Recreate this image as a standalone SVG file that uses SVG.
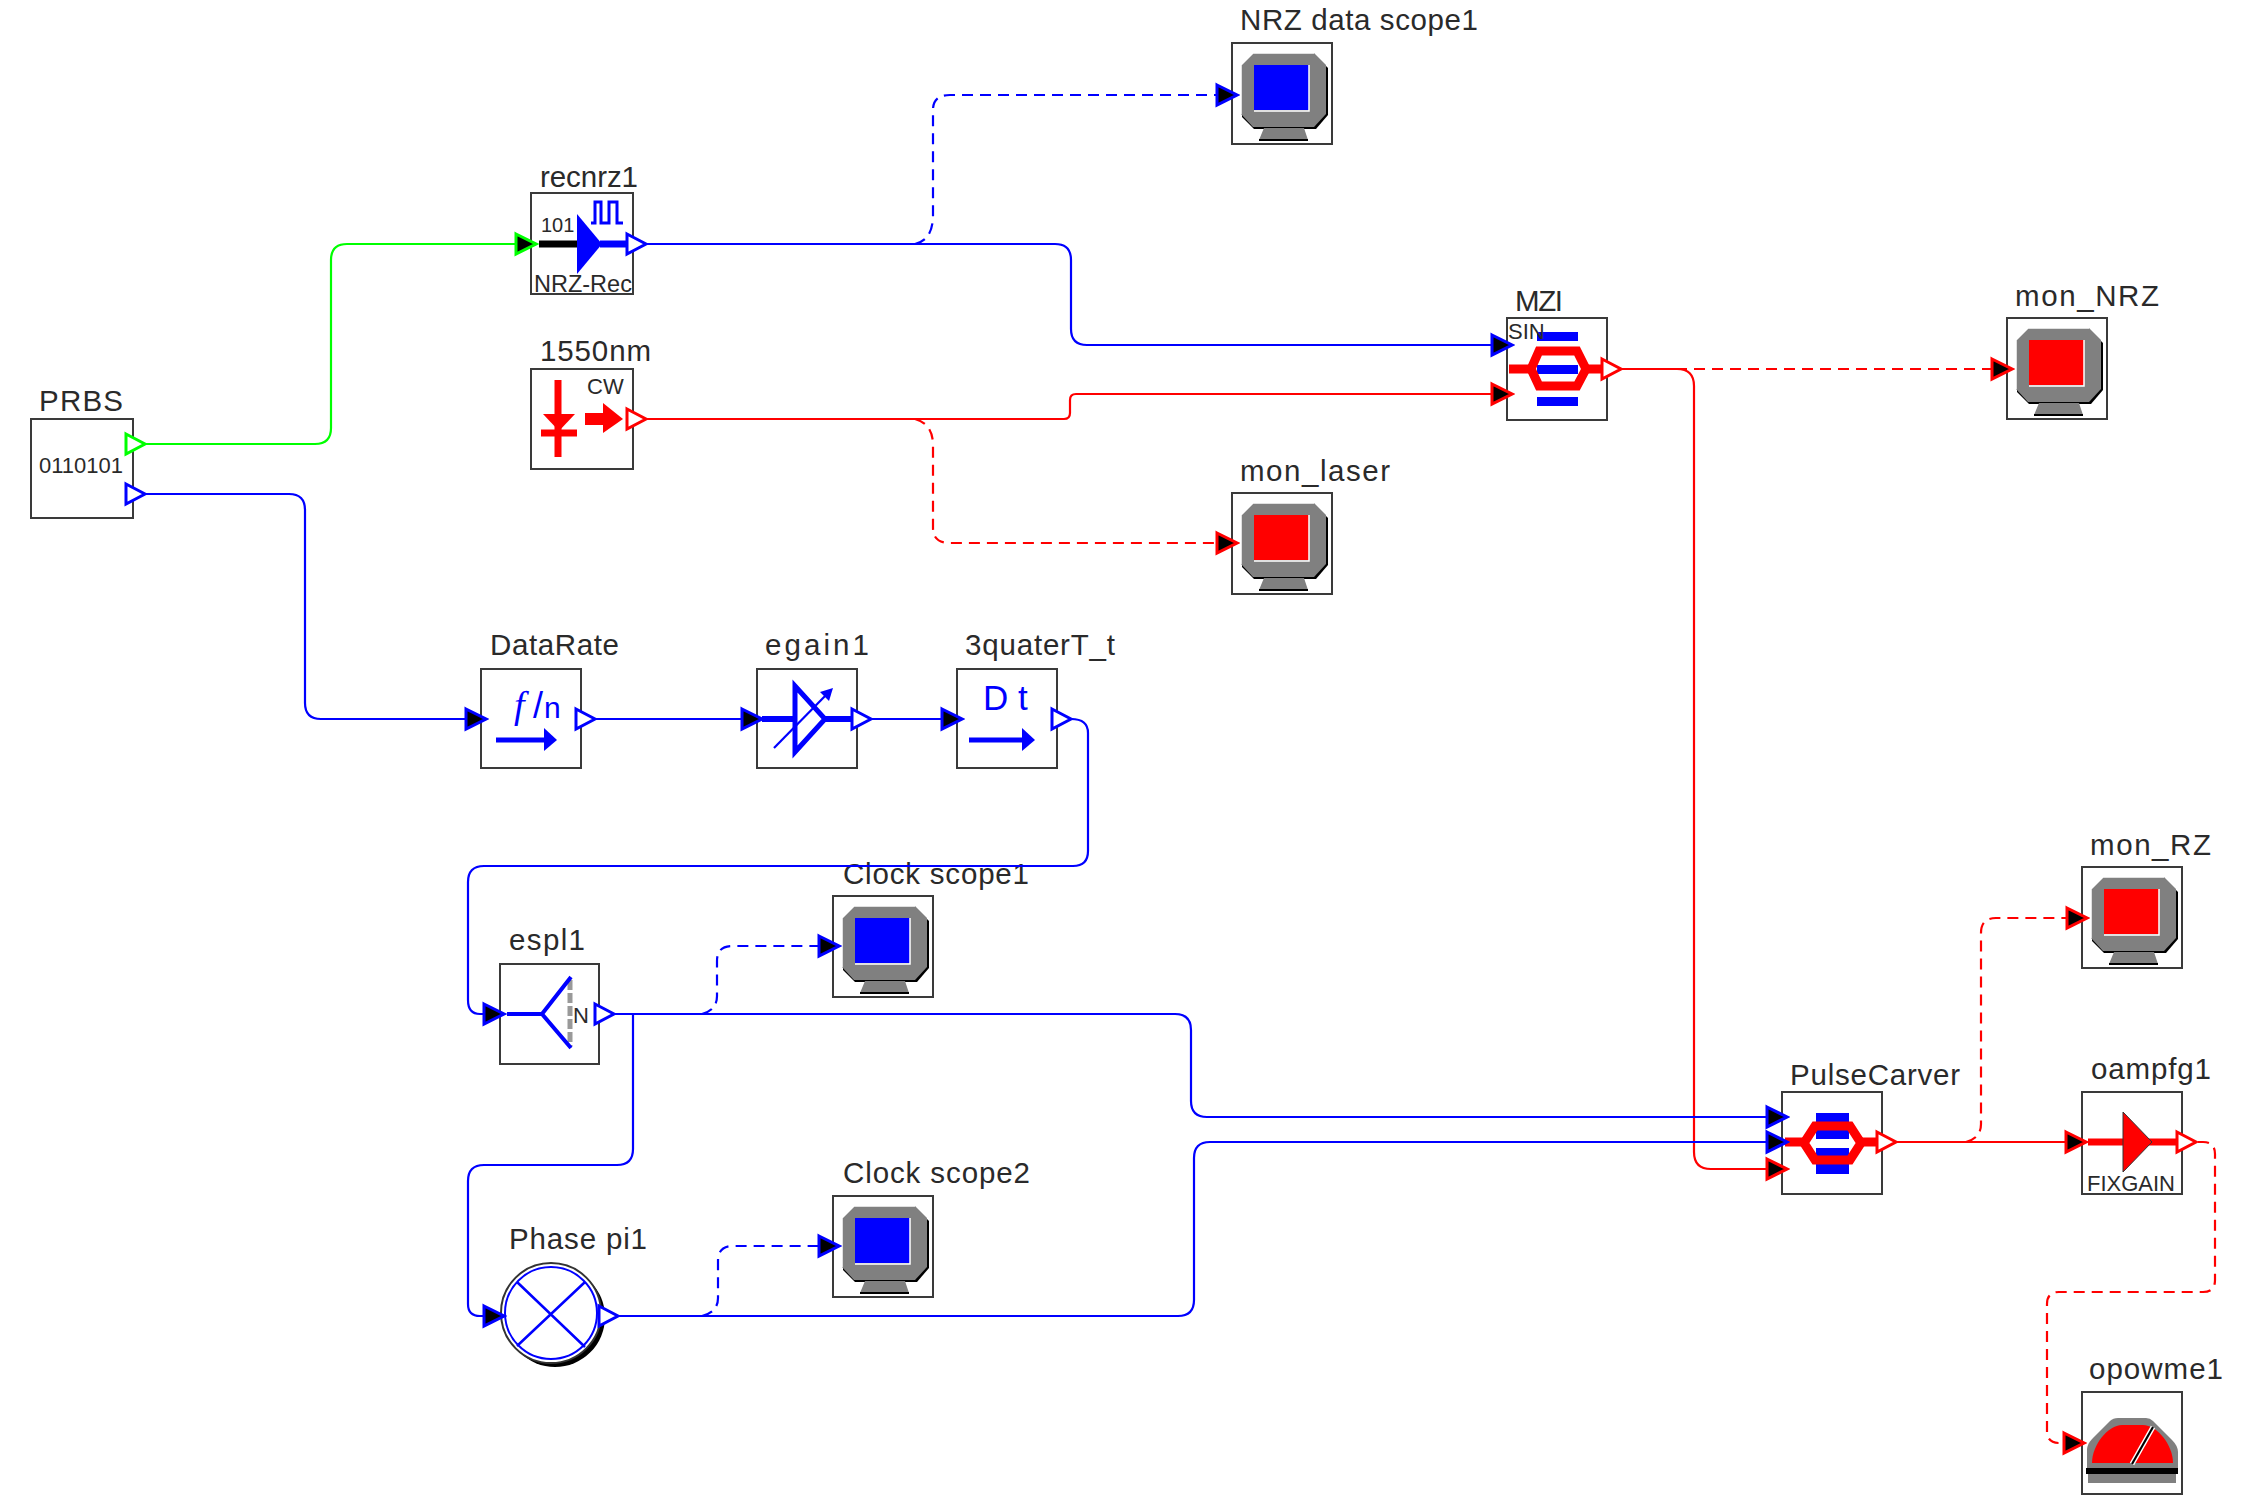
<svg xmlns="http://www.w3.org/2000/svg" width="2259" height="1498" viewBox="0 0 2259 1498">
<style>
text{font-family:"Liberation Sans",Arial,sans-serif;fill:#2a2a2a}
.lbl{font-size:29.5px}
.in{font-size:22px}
.box{fill:#fff;stroke:#3a3a3a;stroke-width:2}
.c{fill:none;stroke-width:2.2}
.b{stroke:#00f}.r{stroke:#f00}.g{stroke:#0f0}
.d{stroke-dasharray:11 7}
.bi{stroke:#00f;fill:none;stroke-width:7}
.ri{stroke:#f00;fill:none;stroke-width:7}
.out{fill:#fff;stroke-width:3}
.bf{fill:#00f}.rf{fill:#f00}
.bt{fill:#00f}
</style>
<defs>
<marker id="inB" markerUnits="userSpaceOnUse" markerWidth="26" markerHeight="28" refX="24" refY="14" orient="auto"><polygon points="3,4 23,14 3,24" fill="#000" stroke="#00f" stroke-width="3"/></marker>
<marker id="inR" markerUnits="userSpaceOnUse" markerWidth="26" markerHeight="28" refX="24" refY="14" orient="auto"><polygon points="3,4 23,14 3,24" fill="#000" stroke="#f00" stroke-width="3"/></marker>
<marker id="inG" markerUnits="userSpaceOnUse" markerWidth="26" markerHeight="28" refX="24" refY="14" orient="auto"><polygon points="3,4 23,14 3,24" fill="#000" stroke="#0f0" stroke-width="3"/></marker>
<polygon id="pin" points="0,-10 19,0 0,10" class="out"/>
<g id="scope">
<rect class="box" x="0" y="0" width="100" height="101"/>
<polygon points="21,12 83,12 95,24 95,71 83,85 21,85 9,73 9,24" fill="#000" transform="translate(1,1)"/>
<polygon points="21,10 82,10 94,22 94,71 82,84 21,84 9,71 9,22" fill="#808080"/>
<path d="M9 71V22L21 10H82" fill="none" stroke="#fff" stroke-width="1.5"/>
<rect x="22" y="22" width="55" height="45"/>
<path d="M77 22V68H22" fill="none" stroke="#fff" stroke-width="1.5"/>
<polygon points="32,85 72,85 76,97 27,97" fill="#808080"/>
<rect x="27" y="96" width="49" height="2" fill="#000"/>
</g>
</defs>
<rect width="2259" height="1498" fill="#fff"/>

<g id="nodes">
<g id="PRBS"><text class="lbl" x="39" y="411" textLength="84">PRBS</text><rect class="box" x="31" y="419" width="102" height="99"/><text class="in" x="39" y="473">0110101</text>
<use href="#pin" x="126" y="444" stroke="#0f0"/><use href="#pin" x="126" y="494" stroke="#00f"/></g>

<g id="recnrz1"><text class="lbl" x="540" y="187" textLength="98">recnrz1</text><rect class="box" x="531" y="193" width="102" height="101"/>
<text class="in" x="541" y="232" style="font-size:20px">101</text>
<path d="M591 223H595V202H601V223H609V202H617V223H623" fill="none" stroke="#00f" stroke-width="3"/>
<path d="M539 244H578" stroke="#000" stroke-width="7"/><path d="M600 244H627" class="bi"/>
<polygon points="577,214 602,244 577,274" class="bf"/>
<text x="534" y="292" style="font-size:23.5px">NRZ-Rec</text>
<use href="#pin" x="627" y="244" stroke="#00f"/></g>

<g id="laser1550"><text class="lbl" x="540" y="361" textLength="111">1550nm</text><rect class="box" x="531" y="369" width="102" height="100"/>
<text class="in" x="587" y="394">CW</text>
<path d="M558 380V457" class="ri"/><polygon points="543,414 575,414 559,431" class="rf"/><path d="M541 433H577" class="ri"/>
<rect x="585" y="413" width="18" height="12" class="rf"/><polygon points="603,403 623,419 603,433" class="rf"/>
<use href="#pin" x="627" y="419" stroke="#f00"/></g>

<g id="NRZdatascope1"><text class="lbl" x="1240" y="30" textLength="238">NRZ data scope1</text><use href="#scope" x="1232" y="43" fill="#00f"/></g>

<g id="MZI"><text class="lbl" x="1515" y="311" textLength="48">MZI</text><rect class="box" x="1507" y="318" width="100" height="102"/>
<rect x="1537" y="332" width="41" height="9" class="bf"/><rect x="1537" y="397" width="41" height="9" class="bf"/>
<rect x="1537" y="365" width="41" height="9" class="bf"/>
<polygon points="1531,369 1539,351 1577,351 1586,369 1577,386 1539,386" fill="none" stroke="#f00" stroke-width="9"/>
<path d="M1509 369H1530M1587 369H1603" stroke="#f00" stroke-width="9"/>
<text class="in" x="1508" y="339">SIN</text>
<use href="#pin" x="1602" y="369" stroke="#f00"/></g>

<g id="mon_NRZ"><text class="lbl" x="2015" y="306" textLength="144">mon_NRZ</text><use href="#scope" x="2007" y="318" fill="#f00"/></g>
<g id="mon_laser"><text class="lbl" x="1240" y="481" textLength="150">mon_laser</text><use href="#scope" x="1232" y="493" fill="#f00"/></g>

<g id="DataRate"><text class="lbl" x="490" y="655" textLength="129">DataRate</text><rect class="box" x="481" y="669" width="100" height="99"/>
<text x="513" y="718" class="bt" style="fill:#00f;font-size:30px"><tspan x="514" style="font-family:'Liberation Serif',serif;font-style:italic;font-size:38px">f</tspan><tspan x="533" style="font-size:36px;font-weight:200">/</tspan><tspan x="544">n</tspan></text>
<path d="M496 740H548" stroke="#00f" stroke-width="5"/><polygon points="544,728 557,740 544,751" class="bf"/>
<use href="#pin" x="576" y="719" stroke="#00f"/></g>

<g id="egain1"><text class="lbl" x="765" y="655" textLength="104">egain1</text><rect class="box" x="757" y="669" width="100" height="99"/>
<path d="M762 719H797M825 719H852" stroke="#00f" stroke-width="6"/>
<polygon points="795,686 825,719 795,752" fill="#fff" stroke="#00f" stroke-width="5"/>
<path d="M774 748L828 693" stroke="#00f" stroke-width="2.2"/><polygon points="833,688 829,701 820,692" class="bf"/>
<path d="M762 719H797" stroke="#00f" stroke-width="6"/>
<use href="#pin" x="852" y="719" stroke="#00f"/></g>

<g id="3quaterT_t"><text class="lbl" x="965" y="655" textLength="150">3quaterT_t</text><rect class="box" x="957" y="669" width="100" height="99"/>
<text x="983" y="710" style="fill:#00f;font-size:35px">D t</text>
<path d="M969 740H1026" stroke="#00f" stroke-width="5"/><polygon points="1022,728 1035,740 1022,751" class="bf"/>
<use href="#pin" x="1052" y="719" stroke="#00f"/></g>

<g id="espl1"><text class="lbl" x="509" y="950" textLength="76">espl1</text><rect class="box" x="500" y="964" width="99" height="100"/>
<path d="M570 980V1046" stroke="#999" stroke-width="5" stroke-dasharray="10 3"/>
<path d="M507 1014H542M571 977L542 1014L571 1048" fill="none" stroke="#00f" stroke-width="4"/>
<text class="in" x="573" y="1023">N</text>
<use href="#pin" x="595" y="1014" stroke="#00f"/></g>

<g id="Clockscope1"><text class="lbl" x="843" y="884" textLength="186">Clock scope1</text><use href="#scope" x="833" y="896" fill="#00f"/></g>

<g id="Phasepi1"><text class="lbl" x="509" y="1249" textLength="138">Phase pi1</text>
<circle cx="555" cy="1317" r="50" fill="#000"/><circle cx="551" cy="1313" r="50" fill="#fff" stroke="#333" stroke-width="2"/>
<circle cx="551" cy="1313" r="46" fill="none" stroke="#00f" stroke-width="2"/>
<path d="M517 1282L585 1347M585 1282L517 1346" stroke="#00f" stroke-width="2.5"/>
<use href="#pin" x="599" y="1316" stroke="#00f"/></g>

<g id="Clockscope2"><text class="lbl" x="843" y="1183" textLength="187">Clock scope2</text><use href="#scope" x="833" y="1196" fill="#00f"/></g>

<g id="mon_RZ"><text class="lbl" x="2090" y="855" textLength="121">mon_RZ</text><use href="#scope" x="2082" y="867" fill="#f00"/></g>

<g id="PulseCarver"><text class="lbl" x="1790" y="1085" textLength="170">PulseCarver</text><rect class="box" x="1782" y="1092" width="100" height="102"/>
<rect x="1816" y="1113" width="33" height="26" class="bf"/><rect x="1816" y="1148" width="33" height="26" class="bf"/>
<polygon points="1804,1143 1815,1126 1850,1126 1861,1143 1850,1160 1815,1160" fill="none" stroke="#f00" stroke-width="9"/>
<path d="M1785 1142H1803M1862 1142H1877" stroke="#f00" stroke-width="9"/>
<use href="#pin" x="1877" y="1142" stroke="#f00"/></g>

<g id="oampfg1"><text class="lbl" x="2091" y="1079" textLength="120">oampfg1</text><rect class="box" x="2082" y="1092" width="100" height="102"/>
<path d="M2088 1142H2178" class="ri"/>
<polygon points="2123,1112 2152,1142 2123,1172" class="rf" stroke="#333" stroke-width="1"/>
<text class="in" x="2087" y="1191">FIXGAIN</text>
<use href="#pin" x="2177" y="1142" stroke="#f00"/></g>

<g id="opowme1"><text class="lbl" x="2089" y="1379" textLength="134">opowme1</text><rect class="box" x="2082" y="1392" width="100" height="102"/>
<path d="M2087 1468V1450C2087 1445 2090 1441 2093 1438L2110 1421Q2113 1418 2118 1418H2146Q2150 1418 2153 1421L2172 1440Q2178 1446 2178 1452V1468Z" fill="#808080"/>
<path d="M2092 1463C2092 1445 2108 1425 2122 1425H2143C2157 1425 2173 1445 2173 1463Z" class="rf"/>
<path d="M2132 1464L2153 1427" stroke="#fff" stroke-width="5"/><path d="M2132 1464L2153 1427" stroke="#000" stroke-width="2.2"/>
<rect x="2086" y="1468" width="92" height="6" fill="#000"/><rect x="2088" y="1474" width="88" height="9" fill="#808080"/></g>
</g>

<g id="connectors">
<path class="c g" marker-end="url(#inG)" d="M145 444H315Q331 444 331 428V260Q331 244 347 244H537"/>
<path class="c b" marker-end="url(#inB)" d="M145 494H289Q305 494 305 510V703Q305 719 321 719H487"/>
<path class="c b" marker-end="url(#inB)" d="M595 719H763"/>
<path class="c b" marker-end="url(#inB)" d="M871 719H963"/>
<path class="c b" d="M1071 719Q1088 719 1088 733V851Q1088 866 1073 866H484Q468 866 468 882V1000Q468 1014 480 1014H505" marker-end="url(#inB)"/>
<path class="c b" marker-end="url(#inB)" d="M646 244H1055Q1071 244 1071 260V329Q1071 345 1087 345H1513"/>
<path class="c r" marker-end="url(#inR)" d="M646 419H1064Q1070 419 1070 413V400Q1070 394 1076 394H1513"/>
<path class="c b d" marker-end="url(#inB)" d="M915 244Q933 240 933 215V110Q933 95 950 95H1238"/>
<path class="c r d" marker-end="url(#inR)" d="M915 419Q933 424 933 445V528Q933 543 950 543H1238"/>
<path class="c r d" marker-end="url(#inR)" d="M1622 369H2013"/>
<path class="c r" marker-end="url(#inR)" d="M1622 369H1677Q1694 369 1694 386V1152Q1694 1169 1711 1169H1788"/>
<path class="c b" marker-end="url(#inB)" d="M615 1014H1175Q1191 1014 1191 1030V1101Q1191 1117 1207 1117H1788"/>
<path class="c b" marker-end="url(#inB)" d="M633 1014V1149Q633 1165 617 1165H484Q468 1165 468 1181V1304Q468 1316 480 1316H505"/>
<path class="c b" marker-end="url(#inB)" d="M618 1316H1178Q1194 1316 1194 1300V1158Q1194 1142 1210 1142H1788"/>
<path class="c b d" marker-end="url(#inB)" d="M702 1014Q717 1010 717 996V961Q717 946 732 946H840"/>
<path class="c b d" marker-end="url(#inB)" d="M702 1316Q718 1312 718 1298V1261Q718 1246 733 1246H840"/>
<path class="c r" marker-end="url(#inR)" d="M1897 1142H2087"/>
<path class="c r d" marker-end="url(#inR)" d="M1966 1142Q1981 1138 1981 1124V933Q1981 918 1996 918H2088"/>
<path class="c r d" marker-end="url(#inR)" d="M2198 1142H2203Q2215 1142 2215 1154V1280Q2215 1292 2203 1292H2059Q2047 1292 2047 1304V1431Q2047 1443 2059 1443H2085"/>
</g>
</svg>
